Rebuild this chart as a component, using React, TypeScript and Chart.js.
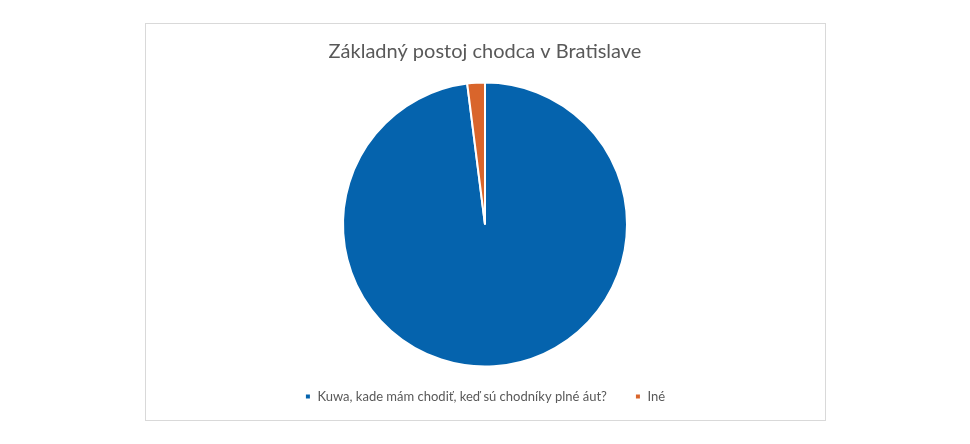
import { useEffect, useRef } from 'react';
import { Chart, registerables } from 'chart.js';

Chart.register(...registerables);

const labels = ['Kuwa, kade mám chodiť, keď sú chodníky plné áut?', 'Iné'];
const values = [98, 2];
const colors = ['#0563AD', '#D9652B'];
const title = 'Základný postoj chodca v Bratislave';

export default function App() {
  const canvasRef = useRef<HTMLCanvasElement>(null);
  const chartRef = useRef<Chart | null>(null);

  useEffect(() => {
    const canvas = canvasRef.current;
    if (!canvas) return;
    const txt = '#595959';

    chartRef.current?.destroy();
    chartRef.current = new Chart(canvas, {
      type: 'pie',
      data: {
        labels,
        datasets: [
          {
            data: values,
            backgroundColor: colors,
            borderColor: '#ffffff',
            borderWidth: 2,
            radius: 142,
          },
        ],
      },
      options: {
        responsive: true,
        maintainAspectRatio: false,
        animation: false,
        layout: { padding: 0 },
        plugins: {
          title: {
            display: true,
            text: title,
            color: txt,
            font: { family: 'Lato', size: 20, weight: 'normal' },
            padding: { top: 16, bottom: 23 },
          },
          legend: {
            position: 'bottom',
            labels: {
              color: txt,
              font: { family: 'Lato', size: 13 },
              boxWidth: 6,
              boxHeight: 6,
              padding: 28,
            },
          },
          tooltip: { enabled: false },
        },
      },
    });
    return () => chartRef.current?.destroy();
  }, []);

  return (
    <div style={{ position: 'fixed', left: 0, top: 0, width: 970, height: 444, background: '#fff' }}>
      <div
        style={{
          position: 'absolute',
          left: 145,
          top: 23,
          width: 679,
          height: 396,
          border: '1px solid #d9d9d9',
        }}
      />
      <div style={{ position: 'absolute', left: 146, top: 24, width: 678, height: 389 }}>
        <canvas ref={canvasRef} />
      </div>
    </div>
  );
}
